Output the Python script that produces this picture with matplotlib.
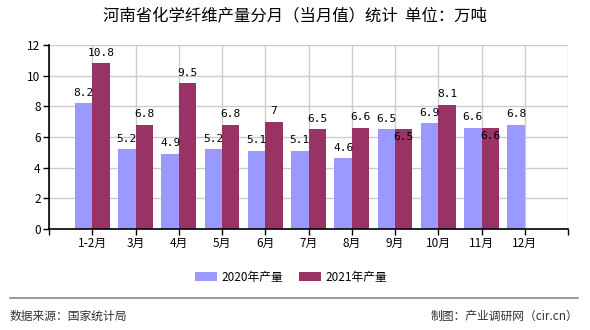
import numpy as np
import matplotlib as mpl
mpl.use('Agg')
from matplotlib import pyplot as plt

plt.rcParams['font.family'] = ['Noto Sans CJK SC', 'DejaVu Sans']

# data
months = ['1-2月', '3月', '4月', '5月', '6月', '7月', '8月', '9月', '10月', '11月', '12月']
vals2020 = [8.2, 5.2, 4.9, 5.2, 5.1, 5.1, 4.6, 6.5, 6.9, 6.6, 6.8]
vals2021 = [10.8, 6.8, 9.5, 6.8, 7, 6.5, 6.6, 6.5, 8.1, 6.6, None]
label2020 = '2020年产量'
label2021 = '2021年产量'

c2020 = '#9999FF'
c2021 = '#993366'

f = plt.figure(figsize=(5.9, 3.3), dpi=100)
ax1 = f.add_axes([49 / 590, 1 - 229 / 330, 519 / 590, 184 / 330])

pos = np.arange(1, len(months) + 1)
w = 0.4

x20 = pos - w / 2
ax1.bar(x20, vals2020, width=w, color=c2020, label=label2020, zorder=2)
m21 = [v is not None for v in vals2021]
x21 = (pos + w / 2)[m21]
y21 = [v for v in vals2021 if v is not None]
ax1.bar(x21, y21, width=w, color=c2021, label=label2021, zorder=2)

def fmt(v):
    return ('%g' % v)

lab_kw = dict(ha='center', fontsize=8, family=['DejaVu Sans Mono'], zorder=4)
for x, v in zip(x20, vals2020):
    ax1.text(x, v + 0.35, fmt(v), va='bottom', **lab_kw)
for x, v, mo in zip(x21, y21, np.array(months)[m21]):
    if mo in ('9月', '11月'):
        # these labels sit below the bar top in the reference
        ax1.text(x, v - 0.2, fmt(v), va='top', **lab_kw)
    else:
        ax1.text(x, v + 0.35, fmt(v), va='bottom', **lab_kw)

ax1.set_xlim(0, len(months) + 1)
ax1.set_ylim(0, 12)
ax1.set_yticks(np.arange(0, 13, 2))
ax1.set_xticks(np.arange(0, len(months) + 2))
ax1.set_xticklabels([''] + months + [''])
ax1.tick_params(axis='both', labelsize=8.5, length=4, width=1, direction='out', pad=2)
ax1.grid(True, color='#cccccc', lw=1, zorder=0)
ax1.set_axisbelow(True)
for s in ('top', 'right'):
    ax1.spines[s].set_visible(False)
for s in ('left', 'bottom'):
    ax1.spines[s].set_linewidth(1.2)
    ax1.spines[s].set_zorder(3)

# title
f.text(295 / 590, 1 - 17 / 330, '河南省化学纤维产量分月（当月值）统计  单位：万吨',
       ha='center', va='center', fontsize=11.8)

# legend
leg = f.legend(loc='center', bbox_to_anchor=(291 / 590, 1 - 277 / 330),
               ncol=2, frameon=False, fontsize=8.5, handlelength=1.86,
               handleheight=0.75, columnspacing=1.36, handletextpad=0.34)

# footer
f.add_artist(plt.Line2D([10 / 590, 578 / 590], [1 - 298 / 330] * 2,
                        color='#888888', lw=1.2, transform=f.transFigure))
f.text(10 / 590, 1 - 316 / 330, '数据来源：国家统计局', ha='left', va='center',
       fontsize=8.5, color='#333333')
f.text(578 / 590, 1 - 316 / 330, '制图：产业调研网（cir.cn）', ha='right', va='center',
       fontsize=8.5, color='#333333')

f.savefig('out.png', dpi=100)
plt.close()
